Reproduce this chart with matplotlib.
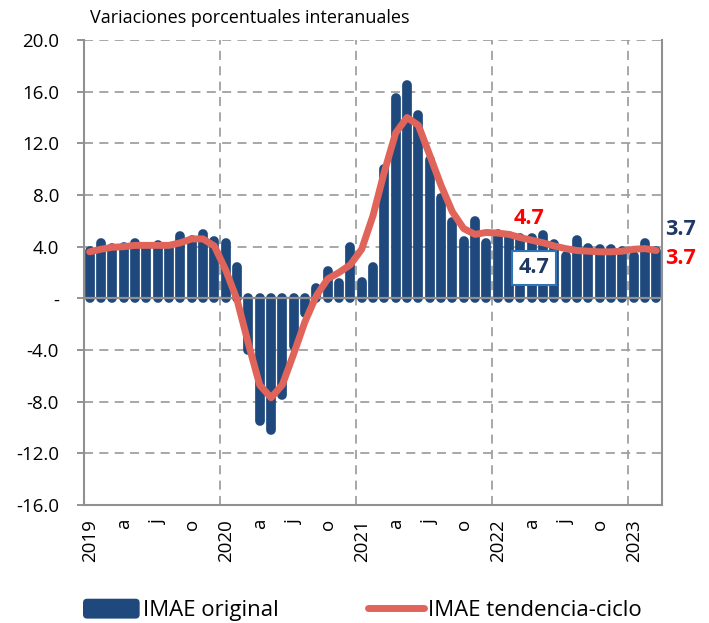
import numpy as np
import matplotlib
matplotlib.use("Agg")
import matplotlib.pyplot as plt
from matplotlib.patches import Patch, FancyBboxPatch
from matplotlib.lines import Line2D
from matplotlib.legend_handler import HandlerPatch

plt.rcParams['font.family'] = ['Open Sans', 'DejaVu Sans']

# monthly values, Jan 2019 .. Mar 2023
imae_original = [
    3.7, 4.3, 3.9, 4.0, 4.3, 4.0, 4.1, 3.8, 4.8, 4.5, 5.0, 4.4,          # 2019
    4.3, 2.4, -4.0, -9.5, -10.2, -7.5, -3.7, -1.1, 0.8, 2.1, 1.2, 4.0,  # 2020
    1.3, 2.4, 10.0, 15.5, 16.5, 14.2, 10.7, 7.8, 5.9, 4.4, 6.0, 4.3,    # 2021
    5.0, 4.8, 4.7, 4.7, 4.9, 4.2, 3.3, 4.5, 3.9, 3.8, 3.8, 3.7,         # 2022
    3.3, 4.3, 3.7,                                                      # 2023
]
imae_tendencia = [
    3.6, 3.8, 3.95, 4.0, 4.1, 4.1, 4.1, 4.1, 4.3, 4.6, 4.6, 4.05,
    2.2, -0.1, -3.5, -6.7, -7.7, -6.7, -4.3, -1.8, 0.2, 1.5, 2.0, 2.6,
    3.8, 6.4, 9.8, 12.8, 14.0, 13.4, 11.1, 8.75, 6.7, 5.4, 4.95, 5.1,
    5.05, 4.95, 4.7, 4.5, 4.3, 4.05, 3.85, 3.7, 3.65, 3.6, 3.6, 3.65,
    3.8, 3.85, 3.7,
]
tick_labels = ["2019", "a", "j", "o", "2020", "a", "j", "o", "2021", "a", "j", "o",
               "2022", "a", "j", "o", "2023"]
y_ticks = [20, 16, 12, 8, 4, 0, -4, -8, -12, -16]
highlight_month = 38  # Mar 2022

blue = "#1F497D"
red_line = "#E0645A"
grey = "#A0A0A0"

x = np.arange(len(imae_original))

fig = plt.figure(figsize=(7.09, 6.23), dpi=100)
ax = fig.add_axes([84 / 709, 1 - 505 / 623, (662 - 84) / 709, (505 - 40) / 623])

# bars with rounded ends
ax.vlines(x, 0, imae_original, colors=blue, linewidth=7.0, capstyle="round", zorder=2)
ax.axhline(0, color="#909090", lw=1.6, zorder=3)
ax.plot(x, imae_tendencia, color=red_line, lw=5, solid_capstyle="round",
        solid_joinstyle="round", zorder=4)

ax.set_xlim(-0.5, len(x) - 0.5)
ax.set_ylim(-16, 20)
ax.set_yticks(y_ticks)
ax.set_yticklabels(["-" if v == 0 else "{:.1f}".format(v) for v in y_ticks], fontsize=13.5)
ax.set_xticks(x[::3])
ax.set_xticklabels(tick_labels, rotation=90, fontsize=13.5)
ax.set_xticks(np.arange(11.5, len(x), 12), minor=True)

ax.tick_params(axis="y", length=5, width=1.2, color="#808080", pad=13)
ax.tick_params(axis="x", which="both", length=0, pad=10)
ax.grid(axis="y", which="major", color=grey, lw=1.3, ls=(0, (5, 3.5)), zorder=0)
ax.grid(axis="x", which="minor", color=grey, lw=1.3, ls=(0, (5, 3.5)), zorder=0)
ax.set_axisbelow(True)

for s in ["left", "bottom", "right"]:
    ax.spines[s].set_color("#909090")
    ax.spines[s].set_linewidth(1.5)
ax.spines["top"].set_visible(False)

fig.text(90 / 709, 1 - 18 / 623, "Variaciones porcentuales interanuales",
         fontsize=13, va="center", ha="left")

# value labels
ax.text(len(x) - 0.2, 5.35, "{:.1f}".format(imae_original[-1]), color="#1F3864",
        fontsize=15.5, fontweight="bold", va="center", ha="left", clip_on=False)
ax.text(len(x) - 0.2, 3.1, "{:.1f}".format(imae_tendencia[-1]), color="#FF0000",
        fontsize=15.5, fontweight="bold", va="center", ha="left", clip_on=False)
ax.text(highlight_month + 0.8, 6.2, "{:.1f}".format(imae_tendencia[highlight_month]),
        color="#FF0000", fontsize=15.5, fontweight="bold", va="center", ha="center")
ax.text(highlight_month + 1.2, 2.35, "{:.1f}".format(imae_original[highlight_month]),
        color="#1F3864", fontsize=15.5, fontweight="bold", va="center", ha="center",
        bbox=dict(boxstyle="square,pad=0.3", fc="white", ec="#2E75B6", lw=1.5), zorder=6)


def rounded_patch(legend, orig_handle, xdescent, ydescent, width, height, fontsize):
    return FancyBboxPatch((-xdescent, -ydescent), width, height,
                          boxstyle="round,pad=0,rounding_size=3")


handles = [Patch(facecolor=blue, edgecolor="none"),
           Line2D([0], [0], color=red_line, lw=5, solid_capstyle="round")]
fig.legend(handles, ["IMAE original", "IMAE tendencia-ciclo"], ncol=2,
           loc="center left", bbox_to_anchor=(83 / 709, 1 - 610 / 623), frameon=False,
           fontsize=16, handlelength=2.55, handleheight=1.0, handletextpad=0.15,
           columnspacing=4.0, borderpad=0, borderaxespad=0,
           handler_map={Patch: HandlerPatch(patch_func=rounded_patch)})

fig.savefig("out.png", dpi=100)
